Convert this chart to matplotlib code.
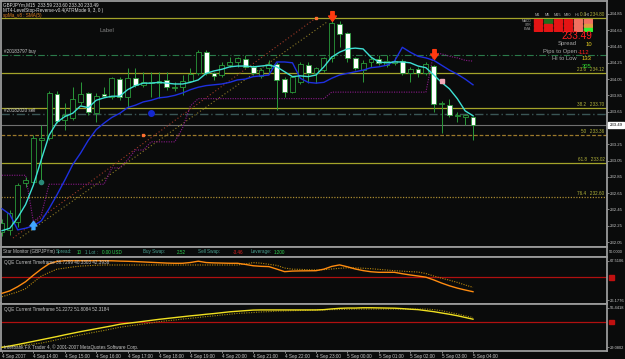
import matplotlib
matplotlib.use('Agg')
import matplotlib.pyplot as plt
from matplotlib.patches import Rectangle
from matplotlib.path import Path
import matplotlib.transforms as mtransforms

# ---------------- data ----------------
opens  = [232.17,232.20,232.30,232.78,232.79,233.30,233.33,233.87,233.55,233.57,
          233.77,233.88,233.63,233.87,233.83,234.05,233.83,234.06,233.98,234.00,
          234.00,234.04,233.94,233.95,234.03,234.12,234.38,234.12,234.10,234.22,
          234.26,234.30,234.20,234.09,234.19,234.24,234.05,233.89,234.01,234.22,
          234.12,234.16,234.31,234.73,234.62,234.31,234.16,234.26,234.30,234.22,
          234.25,234.27,234.12,234.17,234.12,234.21,233.75,233.73,233.60,233.59,233.59]
highs  = [232.33,232.44,232.78,232.85,233.36,233.49,233.90,233.90,233.76,233.95,
          234.01,233.89,233.88,233.95,234.08,234.08,234.19,234.19,234.14,234.14,
          234.14,234.14,234.01,234.10,234.19,234.41,234.41,234.14,234.26,234.32,
          234.32,234.35,234.22,234.19,234.28,234.26,234.08,234.09,234.26,234.26,
          234.20,234.32,234.80,234.76,234.63,234.32,234.28,234.32,234.35,234.35,
          234.32,234.30,234.20,234.20,234.26,234.22,233.78,233.81,233.65,233.62,233.60]
lows   = [232.12,232.14,232.24,232.73,232.78,232.81,233.30,233.51,233.43,233.55,
          233.73,233.61,233.52,233.83,233.81,233.79,233.71,233.95,233.95,233.83,
          233.82,233.92,233.90,233.85,234.01,234.10,234.10,234.04,234.08,234.20,
          234.20,234.19,234.10,234.06,234.14,233.67,233.83,233.88,233.99,234.00,
          234.00,234.14,234.26,234.44,234.26,234.16,234.01,234.20,234.22,234.20,
          234.22,234.10,234.01,234.08,234.10,233.65,233.39,233.59,233.52,233.49,233.30]
closes = [232.29,232.41,232.75,232.81,233.33,233.33,233.88,233.54,233.61,233.81,
          233.87,233.65,233.84,233.84,234.06,233.83,234.06,233.98,234.01,234.01,
          234.03,233.95,233.95,234.03,234.11,234.38,234.12,234.09,234.22,234.26,
          234.31,234.20,234.12,234.16,234.24,234.04,233.89,234.08,234.24,234.12,
          234.19,234.31,234.74,234.60,234.31,234.19,234.25,234.30,234.25,234.27,
          234.27,234.12,234.17,234.12,234.24,233.74,233.76,233.61,233.60,233.61,233.49]

sma_fast = [232.19,232.22,232.35,232.51,232.75,233.06,233.36,233.52,233.59,233.63,
            233.72,233.70,233.79,233.82,233.84,233.84,233.92,233.97,234.00,234.00,
            234.01,234.00,233.99,233.99,234.01,234.04,234.12,234.15,234.17,234.20,
            234.21,234.21,234.20,234.21,234.22,234.20,234.14,234.08,234.09,234.08,
            234.10,234.20,234.32,234.38,234.42,234.43,234.42,234.32,234.26,234.25,
            234.26,234.26,234.25,234.21,234.19,234.10,234.01,233.93,233.81,233.66,233.60]
blue_line = [232.46,232.39,232.20,232.22,232.25,232.31,232.46,232.63,232.81,233.00,
             233.14,233.30,233.43,233.51,233.58,233.63,233.70,233.73,233.77,233.79,
             233.82,233.83,233.85,233.88,233.92,233.95,233.97,233.98,233.99,234.01,
             234.04,234.05,234.08,234.09,234.10,234.26,234.26,234.25,234.06,234.01,
             234.00,234.01,234.06,234.10,234.12,234.14,234.16,234.19,234.20,234.22,
             234.27,234.44,234.38,234.33,234.31,234.28,234.22,234.16,234.11,234.05,233.98]
level_stop = [232.87,232.87,232.87,232.87,232.30,232.38,232.76,232.76,232.76,232.76,
              232.76,232.76,232.76,232.76,232.96,232.96,233.06,233.18,233.18,233.28,
              233.28,233.28,233.28,233.45,233.72,233.81,233.81,233.81,233.81,233.81,
              233.81,233.81,233.81,233.81,233.81,233.81,233.81,233.81,233.81,233.81,
              233.81,233.81,233.89,233.89,233.89,233.89,233.89,233.89,233.89,233.89,
              233.89,233.89,233.89,233.89,233.89,234.37,234.36,234.33,234.31,234.28,234.27]

qqe1_main = [33.2,35.8,40.2,45.4,52.3,58.7,64.3,66.7,67.5,67.5,67.5,67.5,67.5,67.5,67.4,
             67.1,66.9,66.6,66.2,65.8,65.4,65.0,64.8,64.8,65.6,67.0,65.6,65.2,65.0,64.8,
             64.8,63.6,62.2,61.6,61.3,58.7,56.0,56.6,56.8,56.9,57.0,58.6,61.5,63.1,61.1,
             58.8,57.1,55.9,55.3,55.3,55.3,53.8,52.5,51.4,50.2,47.3,44.0,41.1,38.7,36.7,34.9]
qqe1_signal = [29.6,32.2,34.7,38.1,44.9,51.3,55.1,58.6,59.7,60.9,61.9,62.3,62.7,63.0,63.0,
               63.0,63.0,63.0,63.0,63.0,63.0,63.0,63.0,63.0,63.0,63.0,63.0,63.0,63.0,63.0,
               63.0,64.1,65.5,64.9,63.7,62.6,59.8,58.6,58.4,58.0,57.8,58.1,58.8,59.5,60.1,
               59.9,59.6,59.1,58.4,57.7,57.0,56.5,56.0,55.6,54.0,51.4,49.1,47.0,44.7,42.0,39.5]
qqe2_main = [29.1,30.0,31.0,32.1,33.2,34.3,35.4,36.5,37.7,38.8,39.9,40.9,41.9,42.9,43.9,
             45.0,45.7,46.3,47.0,47.7,48.4,49.0,49.6,50.2,50.8,51.3,51.9,52.4,53.0,53.6,
             54.0,54.4,54.8,54.9,54.9,54.9,54.9,54.9,54.9,54.9,54.9,55.1,55.6,56.0,56.2,
             56.2,56.4,56.4,56.3,56.2,56.1,55.8,55.4,55.1,54.4,53.7,52.8,51.9,50.9,49.7,48.5]
qqe2_signal = [29.1,29.6,30.1,30.7,31.3,32.0,33.1,34.3,35.4,36.5,37.6,38.7,39.7,40.7,41.8,
               42.9,43.7,44.4,45.2,45.9,46.8,47.4,47.9,48.6,49.1,49.7,50.3,50.8,51.4,51.9,
               52.5,52.8,53.1,53.5,53.7,54.1,54.2,54.4,54.5,54.6,54.8,54.9,55.1,55.2,55.3,
               55.5,55.5,55.5,55.5,55.5,55.5,55.5,55.5,55.5,55.5,55.1,54.4,53.2,52.1,50.8,49.7]

time_label_bars = [0, 4, 8, 12, 16, 20, 24, 28, 32, 36, 40, 44, 48, 52, 56, 60]
time_labels = ['4 Sep 2007', '4 Sep 14:00', '4 Sep 15:00', '4 Sep 16:00', '4 Sep 17:00',
               '4 Sep 18:00', '4 Sep 19:00', '4 Sep 20:00', '4 Sep 21:00', '4 Sep 22:00',
               '4 Sep 23:00', '5 Sep 00:00', '5 Sep 01:00', '5 Sep 02:00', '5 Sep 03:00',
               '5 Sep 04:00']
price_ticks = [232.05, 232.25, 232.45, 232.65, 232.85, 233.05, 233.25, 233.45,
               233.65, 233.85, 234.05, 234.25, 234.45, 234.65, 234.85]
fib_pct    = ['0.0', '23.6', '38.2', '50', '61.8', '76.4']
fib_prices = [234.80, 234.12, 233.70, 233.36, 233.02, 232.60]
buy_level, sell_level, bid_price = 234.35, 233.62, 233.49
trend_a = ([1.4, 40.0], [232.10, 234.80])
trend_b = ([2.3, 41.4], [232.10, 234.75])
sell_arrow_bars, sell_arrow_prices = [42, 55], [234.82, 234.36]
buy_arrow_bars, buy_arrow_prices = [4], [232.26]
qqe1_range, qqe1_level = (26.1776, 67.5106), 50.0
qqe2_range, qqe2_level = (29.0802, 56.4418), 46.5

tf_names = ['M1', 'M5', 'M15', 'M30', 'H1', 'H4']
sig_rows = ['MACD', 'STR', 'EMA']
sig_colors = [['#e41414', '#1d6e1d', '#e41414', '#e41414', '#f07060', '#f07060'],
              ['#e41414', '#e41414', '#e41414', '#e41414', '#f07060', '#e09a40'],
              ['#e41414', '#e41414', '#e41414', '#e41414', '#f07060', '#30f030']]

# ---------------- layout helpers ----------------
W, H = 625, 359
BG = '#0a0b0b'
SP = '#9a9a9a'
TXT = '#c8c8c8'
FS = 3.3
plt.rcParams['font.family'] = ['Liberation Sans', 'DejaVu Sans']

fig = plt.figure(figsize=(W / 100, H / 100), dpi=100, facecolor=BG)

def rect(x0, y0, x1, y1):
    return [x0 / W, 1 - y1 / H, (x1 - x0) / W, (y1 - y0) / H]

def ftext(x, y, s, **kw):
    kw.setdefault('va', 'center')
    kw.setdefault('fontsize', FS)
    kw.setdefault('color', TXT)
    fig.text(x / W, 1 - y / H, s, **kw)

XL = ((0.5 - 2) / 7.85, (607 - 2) / 7.85)
n = len(closes)
idx = list(range(n))

def style(ax):
    ax.set_facecolor(BG)
    for s in ax.spines.values():
        s.set_color(SP)
        s.set_linewidth(1.3)
    ax.set_xlim(*XL)
    ax.tick_params(left=False, labelleft=False, bottom=False, labelbottom=False)

# ---------------- main price chart ----------------
ax = fig.add_axes(rect(0.5, 1, 607, 246.5))
style(ax)
ax.set_ylim(231.996, 235.008)
ax.yaxis.tick_right()
ax.set_yticks(price_ticks)
ax.set_yticklabels([f'{p:.2f}' for p in price_ticks])
ax.tick_params(axis='y', right=True, labelright=True, colors=SP, labelcolor=TXT,
               length=1.5, width=0.6, pad=0.8, labelsize=3.1)

# fibo / level lines
fib_styles = ['-', '-', '-', (0, (3, 1.5)), '-', (0, (1, 1.2))]
fib_cols = ['#a4a42a', '#a4a42a', '#a4a42a', '#9c7a2c', '#a4a42a', '#a88a30']
blend = mtransforms.blended_transform_factory(ax.transAxes, ax.transData)
for pct, pr, ls, c in zip(fib_pct, fib_prices, fib_styles, fib_cols):
    ax.axhline(pr, color=c, lw=0.9, ls=ls, zorder=1)
    ax.text(0.996, pr + 0.012, f'{pct}   {pr:.2f}', transform=blend, ha='right', va='bottom',
            fontsize=FS, color='#b4b43a')
ax.axhline(buy_level, color='#2b7a4a', lw=0.8, ls=(0, (6, 2, 1, 2)), zorder=1)
ax.axhline(sell_level, color='#3a5656', lw=1.0, ls=(0, (6, 2, 1, 2)), zorder=1)
ax.axhline(bid_price, color='#707070', lw=0.8, zorder=1)
ax.text(0.005, buy_level + 0.01, '#20183797 buy', transform=blend, fontsize=FS,
        color=TXT, va='bottom')
ax.text(0.005, sell_level + 0.01, '#20182020 sell', transform=blend, fontsize=FS,
        color=TXT, va='bottom')

# trend lines
ax.plot(*trend_a, color='#a03a28', lw=0.8, ls=(0, (1, 2)), zorder=2)
ax.plot(*trend_b, color='#8c7a26', lw=0.8, ls=(0, (1, 2)), zorder=2)

# stop line, moving averages
ax.plot(idx, level_stop, color='#8a1a8a', lw=0.8, ls=(0, (1, 1.2)), zorder=2)
ax.plot(idx, blue_line, color='#1e30e0', lw=1.0, zorder=4)

# candles
wick_c = '#2a9a3a'
ax.vlines(idx, lows, highs, color=wick_c, lw=0.7, zorder=3)
for i in idx:
    o, c = opens[i], closes[i]
    bull = c >= o
    ax.bar(i, max(abs(c - o), 0.006), bottom=min(o, c), width=0.62,
           color=BG if bull else 'white', edgecolor=wick_c, linewidth=0.6, zorder=3)

ax.plot(idx, sma_fast, color='#3ee0d4', lw=1.0, zorder=5)

# arrows / markers
down = Path([(-0.35, 1), (0.35, 1), (0.35, 0.1), (0.8, 0.1), (0, -1), (-0.8, 0.1),
             (-0.35, 0.1), (-0.35, 1)], closed=True)
up = Path([(x, -y) for x, y in down.vertices], closed=True)
ax.plot(sell_arrow_bars, sell_arrow_prices, ls='none', marker=down, ms=7,
        color='#ff3a10', zorder=6)
ax.plot(buy_arrow_bars, buy_arrow_prices, ls='none', marker=up, ms=6,
        color='#40a8ff', zorder=6)
ax.plot([19], [233.63], 'o', ms=4, color='#1428d0', zorder=6)
ax.plot([5], [232.79], 'o', ms=3, color='#2a8a78', zorder=6)
ax.plot([56], [234.03], 's', ms=3, color='#f0a8b8', zorder=6)
ax.plot([18, 40], [233.36, 234.80], 's', ms=1.8, color='#ff7030', zorder=6)

# bid price box
ax.text(1.004, bid_price, f'{bid_price:.2f}', transform=blend, fontsize=3.1,
        color='black', va='center', ha='left', zorder=10, clip_on=False,
        bbox=dict(boxstyle='square,pad=0.25', fc='white', ec='white'))

# headers
ftext(3, 4.5, 'GBPJPYm,M15  233.59 233.60 233.30 233.49', color='#e0e0e0')
ftext(3, 10.5, 'MT4-LevelStop-Reverse-v0.4(ATRMode 9, 3, 0 )', color='#e0e0e0')
ftext(3, 16, 'spMa_v8 : SMA(5)', color='#e08020')
ftext(100, 30, 'Label', color='#808080', fontsize=4.4)

# signal grid
gax = fig.add_axes(rect(533, 19, 593, 31.5))
gax.set_axis_off()
gax.set_xlim(0, 6)
gax.set_ylim(3, 0)
for r, row in enumerate(sig_colors):
    for c, col in enumerate(row):
        gax.add_patch(Rectangle((c + 0.08, r + 0.1), 0.84, 0.78, color=col))
for c, name in enumerate(tf_names):
    ftext(537 + c * 10, 15.5, name, fontsize=2.8, ha='center', color='#b0b0b0')
for r, name in enumerate(sig_rows):
    ftext(531, 21 + r * 4, name, fontsize=2.4, ha='right', color='#a0a0a0')

ftext(592, 36, '233.49', fontsize=7.2, ha='right', color='#ff2020')
ftext(577, 44, 'Spread', fontsize=4.2, ha='right', color='#a8a8a8')
ftext(586, 44, '10', fontsize=4.2, color='#e8d020')
ftext(577, 52, 'Pips to Open', fontsize=4.2, ha='right', color='#a8a8a8')
ftext(578, 52, '-112', fontsize=4.2, color='#ff2020')
ftext(577, 59, 'Hi to Low', fontsize=4.2, ha='right', color='#a8a8a8')
ftext(582, 59, '133', fontsize=4.2, color='#e8d020')
ftext(582, 66, '305', fontsize=4.2, color='#30e030')

# ---------------- star monitor strip ----------------
sax = fig.add_axes(rect(0.5, 246.5, 607, 256.5))
style(sax)
sax.set_ylim(0, 1)
lab_c, val_c = '#4aa090', '#30d050'
ftext(3, 252, 'Star Monitor (GBPJPYm)', color='#c0c0c0')
ftext(56, 252, 'Spread:', color=lab_c)
ftext(77, 252, '10', color=val_c)
ftext(85, 252, '1 Lot :', color=lab_c)
ftext(102, 252, '0.00 USD', color=val_c)
ftext(143, 252, 'Buy Swap:', color=lab_c)
ftext(177, 252, '2.52', color=val_c)
ftext(198, 252, 'Sell Swap:', color=lab_c)
ftext(233, 252, '-3.46', color='#e02020')
ftext(251, 252, 'Leverage:', color=lab_c)
ftext(274, 252, '1:200', color=val_c)
ftext(609, 252, '50.0000', color=TXT, fontsize=2.8)

# ---------------- QQE panels ----------------
def qqe_panel(y0, y1, main, sig, rng, level, main_c, sig_c, title, ylim):
    q = fig.add_axes(rect(0.5, y0, 607, y1))
    style(q)
    q.set_ylim(*ylim)
    q.axhline(level, color='#b01010', lw=0.9, zorder=1)
    q.plot(idx, sig, color=sig_c, lw=0.8, ls=(0, (1, 1.2)), zorder=2)
    q.plot(idx, main, color=main_c, lw=1.0, zorder=3)
    q.yaxis.tick_right()
    q.set_yticks(list(rng))
    q.set_yticklabels([f'{v:.4f}' for v in rng])
    q.tick_params(axis='y', right=True, labelright=True, colors=SP, labelcolor=TXT,
                  length=1.5, width=0.6, pad=0.8, labelsize=2.9)
    bl = mtransforms.blended_transform_factory(q.transAxes, q.transData)
    q.add_patch(Rectangle((1.004, level - (ylim[1] - ylim[0]) * 0.05), 0.008,
                          (ylim[1] - ylim[0]) * 0.1, transform=bl, color='#c01010',
                          clip_on=False))
    q.text(0.005, 0.93, title, transform=q.transAxes, fontsize=FS, color=TXT, va='top')
    return q

qqe_panel(256.5, 303.5, qqe1_main, qqe1_signal, qqe1_range, qqe1_level,
          '#ff8c10', '#b8860b', 'QQE Current Timeframe 36.7299 40.3303 42.3938',
          (22.5, 71.93))
q2 = qqe_panel(303.5, 350.7, qqe2_main, qqe2_signal, qqe2_range, qqe2_level,
               '#f0e020', '#a08a10', 'QQE Current Timeframe 51.2272 51.8084 52.3184',
               (26.73, 59.34))
q2.text(0.005, 0.08, 'Interbank FX Trader 4, \u00a9 2001-2007 MetaQuotes Software Corp.',
        transform=q2.transAxes, fontsize=FS, color=TXT, va='center')

q2.set_xticks(time_label_bars)
q2.set_xticklabels(time_labels)
q2.tick_params(axis='x', bottom=True, labelbottom=True, colors=SP, labelcolor=TXT,
               length=1.5, width=0.6, pad=0.6, labelsize=FS)
for t in q2.get_xticklabels():
    t.set_ha('left')

fig.savefig('out.png', dpi=100, facecolor=BG)
